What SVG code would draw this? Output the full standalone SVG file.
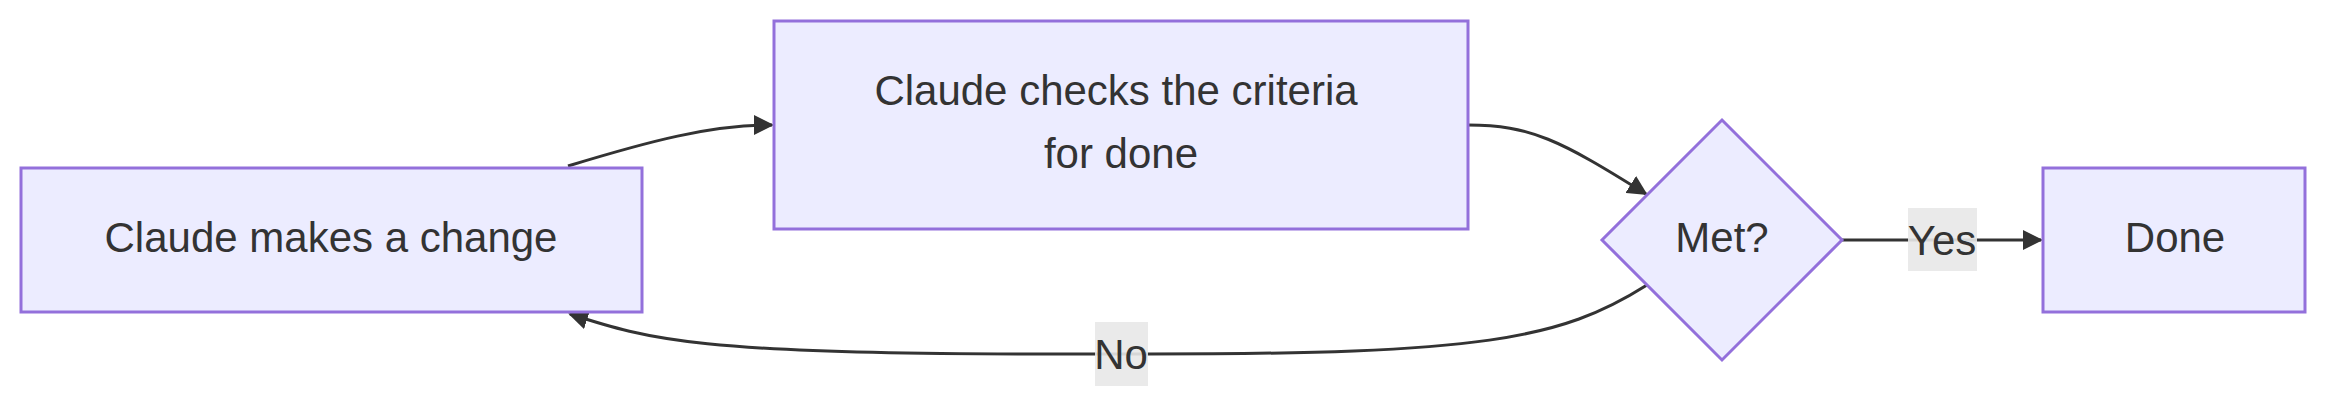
<svg xmlns="http://www.w3.org/2000/svg" width="2352" height="414" viewBox="0 0 2352 414">
<style>
.n{fill:#ECECFF;stroke:#9370DB;stroke-width:3}
.t{font-family:"Liberation Sans",Arial,sans-serif;font-size:42px;fill:#333;text-anchor:middle;dominant-baseline:central}
.e{fill:none;stroke:#333;stroke-width:3}
.lb{fill:#e8e8e8;opacity:0.9}
</style>
<defs><marker id="a" viewBox="0 0 10 10" refX="9" refY="5" markerWidth="7" markerHeight="7" markerUnits="userSpaceOnUse" orient="auto"><path d="M0,0L10,5L0,10z" fill="#333"/></marker>
<marker id="ah" viewBox="0 0 10 10" refX="9" refY="5" markerWidth="20" markerHeight="20" markerUnits="userSpaceOnUse" orient="auto"><path d="M0,0L10,5L0,10z" fill="#333"/></marker></defs>
<g id="edges">
<path class="e" d="M568,166 C650,141 710,125 772,125" marker-end="url(#ah)"/>
<path class="e" d="M1468,125 C1530,125 1560,140 1646,194" marker-end="url(#ah)"/>
<path class="e" d="M1842,240 L2041,240" marker-end="url(#ah)"/>
<path class="e" d="M1647,285 C1560,340 1480,354 1148,354 L1040,354 C700,354 650,340 570,314" marker-end="url(#ah)"/>
<rect class="lb" x="1908" y="208" width="69" height="63"/><text class="t" x="1942" y="240">Yes</text>
<rect class="lb" x="1095" y="322" width="53" height="64"/><text class="t" x="1121" y="354">No</text>
</g>
<g id="n1"><rect class="n" x="21" y="168" width="621" height="144"/><text class="t" x="331" y="237">Claude makes a change</text></g>
<g id="n2"><rect class="n" x="774" y="21" width="694" height="208"/><text class="t" x="1116" y="90">Claude checks the criteria</text><text class="t" x="1121" y="153">for done</text></g>
<g id="n3"><polygon class="n" points="1722,120 1842,240 1722,360 1602,240"/><text class="t" x="1722" y="237">Met?</text></g>
<g id="n4"><rect class="n" x="2043" y="168" width="262" height="144"/><text class="t" x="2175" y="237">Done</text></g>
</svg>
